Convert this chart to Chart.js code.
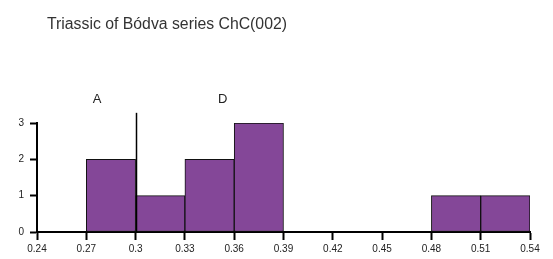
<!DOCTYPE html>
<html><head><meta charset="utf-8">
<script src="https://cdn.jsdelivr.net/npm/chart.js@4"></script>
<style>html,body{margin:0;padding:0;background:#fff}#wrap{width:553px;height:259px}</style>
</head><body><div id="wrap"><canvas id="c" width="553" height="259"></canvas></div>
<script>
const titleText = "Triassic of Bódva series ChC(002)";
const binStarts = [0.27, 0.30, 0.33, 0.36, 0.48, 0.51];
const binWidth = 0.03;
const counts = [2, 1, 2, 3, 1, 1];
const xTicks = [0.24, 0.27, 0.30, 0.33, 0.36, 0.39, 0.42, 0.45, 0.48, 0.51, 0.54];
const yTicks = [0, 1, 2, 3];
const markerLabels = ["A", "D"];
const markerLabelX = [0.2765, 0.353];
const markerLineX = [0.30];

const FONT = "'Liberation Sans', Arial, sans-serif";

const overlay = {
  id: 'overlay',
  afterDatasetsDraw(chart) {
    const ctx = chart.ctx, xs = chart.scales.x, ys = chart.scales.y;
    ctx.save();
    ctx.fillStyle = '#333';
    ctx.font = "15.8px " + FONT;
    ctx.textBaseline = 'middle';
    ctx.textAlign = 'left';
    ctx.fillText(titleText, 47, 25);
    ctx.font = "13px " + FONT;
    ctx.textAlign = 'center';
    ctx.fillStyle = '#222';
    markerLabels.forEach((t, i) => ctx.fillText(t, xs.getPixelForValue(markerLabelX[i]), ys.getPixelForValue(3.66)));
    ctx.strokeStyle = '#000';
    ctx.lineWidth = 1.5;
    markerLineX.forEach(v => {
      const px = Math.round(xs.getPixelForValue(v)) + 0.5;
      ctx.beginPath();
      ctx.moveTo(px, ys.getPixelForValue(3.28));
      ctx.lineTo(px, ys.getPixelForValue(0));
      ctx.stroke();
    });
    ctx.restore();
  }
};

new Chart(document.getElementById('c'), {
  type: 'bar',
  data: {
    datasets: [{
      data: binStarts.map((s, i) => ({ x: s + binWidth / 2, y: counts[i] })),
      backgroundColor: '#844798',
      borderColor: '#111',
      borderWidth: 1,
      borderSkipped: false,
      barPercentage: 1,
      categoryPercentage: 1
    }]
  },
  options: {
    responsive: false,
    animation: false,
    layout: { padding: { left: 0, right: 23, top: 123, bottom: 0 } },
    plugins: { legend: { display: false }, tooltip: { enabled: false }, title: { display: false } },
    scales: {
      x: {
        type: 'linear', min: 0.24, max: 0.54, offset: false,
        afterBuildTicks: s => { s.ticks = xTicks.map(v => ({ value: v })); },
        afterFit: s => { s.height = 27; },
        grid: { offset: false, drawOnChartArea: false, drawTicks: true, tickLength: 8, tickColor: '#000', tickWidth: 2 },
        border: { display: true, color: '#000', width: 2 },
        ticks: {
          color: '#222', padding: 3, maxRotation: 0, autoSkip: false,
          font: { size: 10, family: FONT },
          callback: v => String(Math.round(v * 100) / 100)
        }
      },
      y: {
        type: 'linear', min: 0, max: 3,
        afterBuildTicks: s => { s.ticks = yTicks.map(v => ({ value: v })); },
        afterFit: s => { s.width = 37; },
        grid: { offset: false, drawOnChartArea: false, drawTicks: true, tickLength: 7, tickColor: '#000', tickWidth: 2 },
        border: { display: true, color: '#000', width: 2 },
        ticks: { color: '#222', padding: 6, font: { size: 10, family: FONT } }
      }
    }
  },
  plugins: [overlay]
});
</script>
</body></html>
